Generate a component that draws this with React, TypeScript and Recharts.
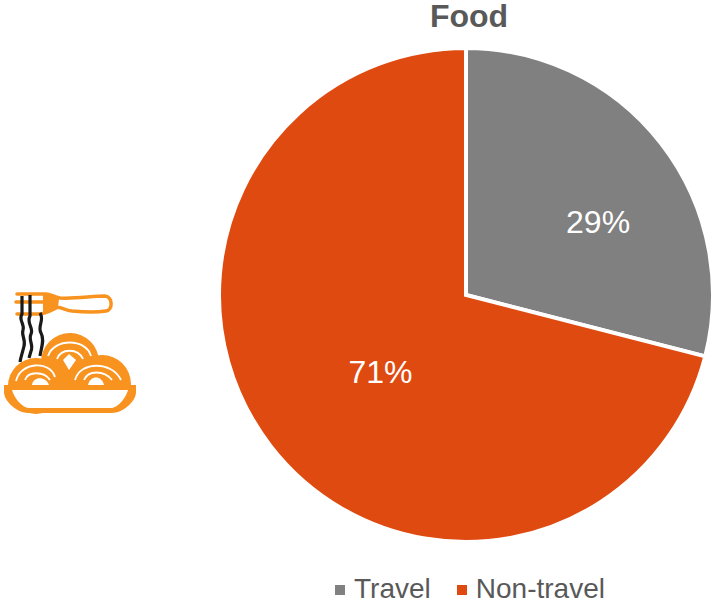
import { PieChart, Pie, Cell, Legend } from 'recharts';

const categories = ['Travel', 'Non-travel'];
const shares = [29, 71];
const sliceColors = ['#808080', '#DF4A10'];
const chartTitle = 'Food';

const data = categories.map((name, i) => ({ name, value: shares[i] }));

const CX = 466;
const CY = 295;
const RADIUS = 247;
const RAD = Math.PI / 180;

// label spots, as radius and angle from the pie centre, one per slice
const labelSpots = [
  { radius: 151, angle: 29 },
  { radius: 115, angle: 222 },
];

function SliceLabel({ index, value }: any) {
  const spot = labelSpots[index];
  const x = CX + spot.radius * Math.cos(spot.angle * RAD);
  const y = CY - spot.radius * Math.sin(spot.angle * RAD);
  return (
    <text x={x} y={y} fill="#fff" fontSize={32} fontFamily="Liberation Sans" textAnchor="middle" dominantBaseline="central">
      {value}%
    </text>
  );
}

function LegendRow() {
  return (
    <div style={{ display: 'flex', alignItems: 'center', fontFamily: 'Liberation Sans', fontSize: 28, color: '#595959', lineHeight: '34px' }}>
      {categories.map((name, i) => (
        <span key={name} style={{ display: 'flex', alignItems: 'center', marginRight: i === 0 ? 26 : 0 }}>
          <span style={{ width: 10, height: 10, background: sliceColors[i], marginRight: 9, marginTop: 2 }} />
          {name}
        </span>
      ))}
    </div>
  );
}

// noodle bowl with a fork
function BowlIcon() {
  const orange = '#F7931E';
  return (
    <svg width={140} height={130} viewBox="0 0 140 130" style={{ position: 'absolute', left: 0, top: 288 }}>
      {/* fork */}
      <g fill="none" stroke={orange} strokeLinecap="round" strokeLinejoin="round">
        <path d="M17 6 H46 C50 6 54 9 60 10 C75 11 92 8 105 8 C113 9 113 22 106 23 C95 25 82 24 72 23 C64 22 60 18 56 20 C50 23 46 26 38 26 H17" strokeWidth={3.5} />
        <path d="M16 14 H46" strokeWidth={3.5} />
      </g>
      <path d="M43 6 C48 7 54 9 59 11 L58 19 C52 21 48 24 43 25 Z" fill={orange} />
      {/* noodles */}
      <g fill="none" stroke="#1a1a1a" strokeWidth={3.2}>
        <path d="M22 8 V26 C18 32 25 36 23 42 C21 47 26 52 24 58 C23 63 21 68 20 74" />
        <path d="M30 7 V28 C26 35 34 40 31 46 C28 52 34 57 31 63 L29 70" />
        <path d="M40 25 C45 32 37 38 41 45 C45 52 41 60 40 68" />
      </g>
      {/* noodle mounds */}
      <g fill={orange}>
        <circle cx={70} cy={74} r={29} />
        <circle cx={36} cy={98} r={28} />
        <circle cx={102} cy={96} r={29} />
        <rect x={14} y={84} width={112} height={16} />
      </g>
      <g fill="none" stroke="#fff" strokeWidth={1.8}>
        <path d="M48 68 C54 50 86 50 91 68" />
        <path d="M57 71 C61 60 78 60 83 71" />
        <path d="M16 93 C20 74 50 72 55 89" />
        <path d="M25 92 C28 83 44 83 50 92" />
        <path d="M75 92 C80 73 112 73 121 92" />
        <path d="M84 92 C88 82 104 82 112 92" />
      </g>
      <g fill="#fff">
        <path d="M69 66 L76 72 L69 82 L63 72 Z" />
        <path d="M32 97 C33 88 46 88 49 97 Z" />
        <path d="M88 97 C90 87 102 87 104 97 Z" />
      </g>
      {/* bowl */}
      <path d="M4 97 H136 V104 C136 114 122 125 112 125 H28 C18 125 4 114 4 104 Z" fill={orange} />
      <path d="M12 102 H128 C126 110 118 119 112 120 H28 C22 119 14 110 12 102 Z" fill="#fff" />
    </svg>
  );
}

export default function App() {
  return (
    <div style={{ position: 'absolute', left: 0, top: 0, width: 718, height: 605, background: '#fff', overflow: 'hidden' }}>
      <PieChart width={718} height={605} margin={{ top: 0, right: 0, bottom: 0, left: 0 }}>
        <Pie
          data={data}
          dataKey="value"
          nameKey="name"
          cx={CX}
          cy={CY}
          outerRadius={RADIUS}
          startAngle={90}
          endAngle={-270}
          stroke="#fff"
          strokeWidth={4}
          label={SliceLabel}
          labelLine={false}
          isAnimationActive={false}
        >
          {data.map((d, i) => (
            <Cell key={d.name} fill={sliceColors[i]} />
          ))}
        </Pie>
        <Legend content={() => <LegendRow />} wrapperStyle={{ position: 'absolute', left: 335, top: 572, width: 300 }} />
      </PieChart>
      <div style={{ position: 'absolute', left: 360, width: 218, top: 0, textAlign: 'center', fontFamily: 'Liberation Sans', fontWeight: 700, fontSize: 32, color: '#595959', lineHeight: '32px' }}>
        {chartTitle}
      </div>
      <BowlIcon />
    </div>
  );
}
